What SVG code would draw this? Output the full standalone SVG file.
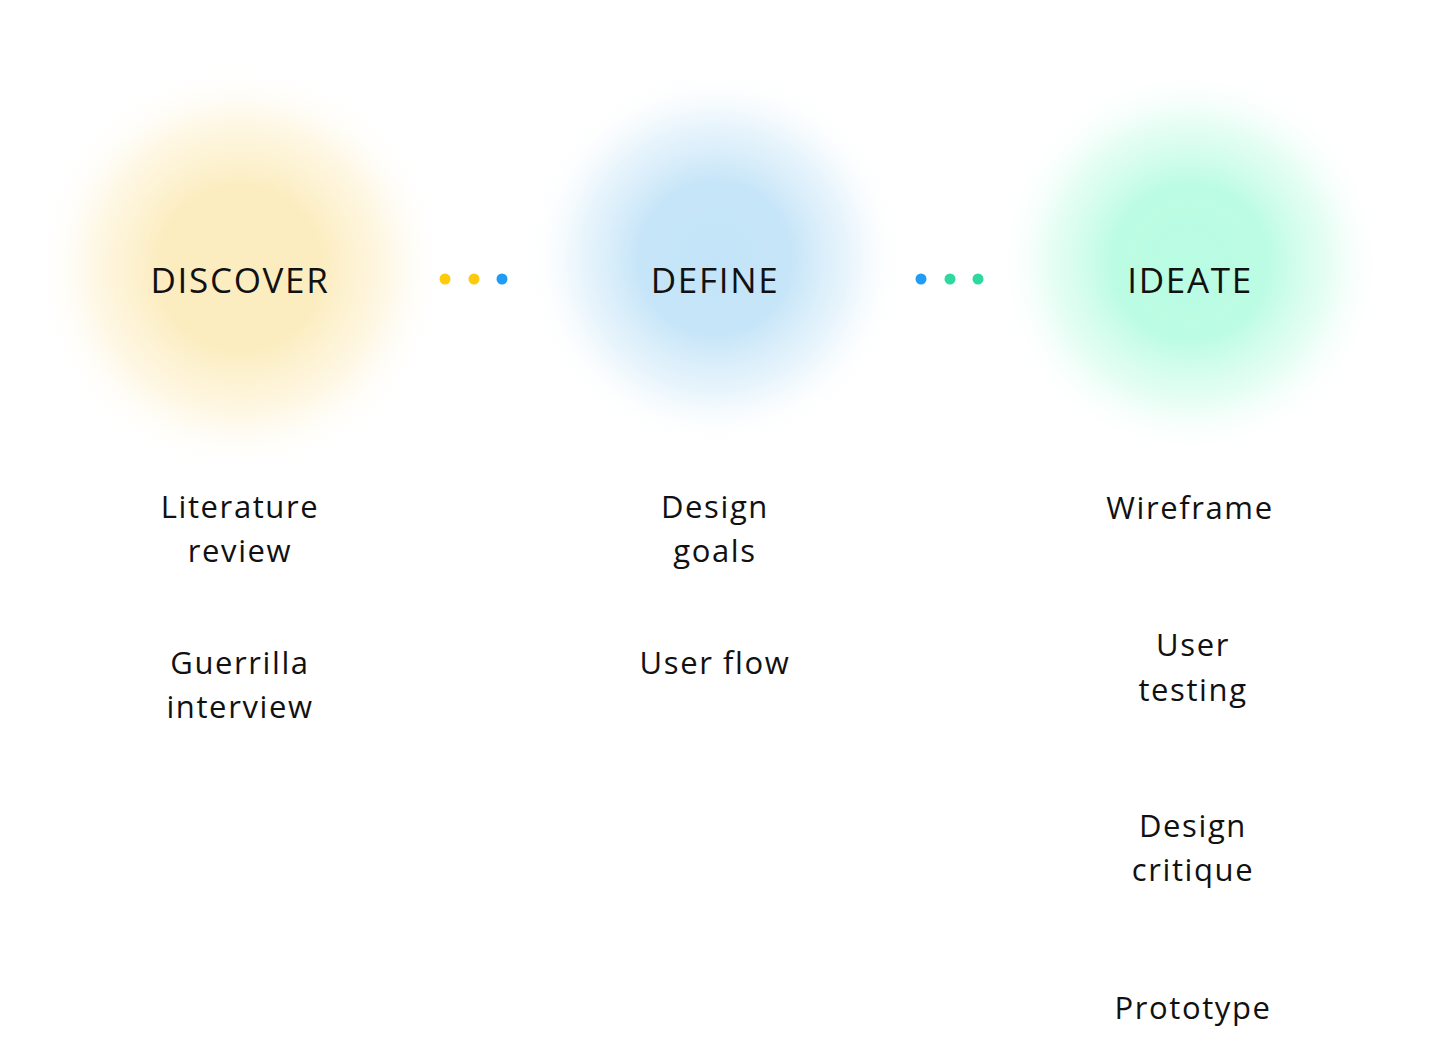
<svg xmlns="http://www.w3.org/2000/svg" width="1448" height="1062" viewBox="0 0 1448 1062">
<defs>
<radialGradient id="gy"><stop offset="0" stop-color="#fcedc0"/><stop offset="0.4" stop-color="#fcedc0"/><stop offset="0.7" stop-color="#fdf1cf" stop-opacity="0.6"/><stop offset="1" stop-color="#ffffff" stop-opacity="0"/></radialGradient>
<radialGradient id="gb"><stop offset="0" stop-color="#c3e4f8"/><stop offset="0.4" stop-color="#c6e5f8"/><stop offset="0.7" stop-color="#d8edfa" stop-opacity="0.6"/><stop offset="1" stop-color="#ffffff" stop-opacity="0"/></radialGradient>
<radialGradient id="gg"><stop offset="0" stop-color="#b9fde3"/><stop offset="0.4" stop-color="#bcfce4"/><stop offset="0.7" stop-color="#d2fdec" stop-opacity="0.6"/><stop offset="1" stop-color="#ffffff" stop-opacity="0"/></radialGradient>
<style>
text{font-family:"Open Sans","Liberation Sans",sans-serif;fill:#111;text-anchor:middle}
.h{font-size:35px;letter-spacing:1.7px}
.t{font-size:31px;letter-spacing:1.6px}
</style>
</defs>
<rect width="1448" height="1062" fill="#fff"/>
<g id="discover">
<circle cx="240" cy="268" r="205" fill="url(#gy)"/>
<text class="h" x="240" y="293">DISCOVER</text>
</g>
<g id="define">
<circle cx="715" cy="258" r="190" fill="url(#gb)"/>
<text class="h" x="715" y="293">DEFINE</text>
</g>
<g id="ideate">
<circle cx="1190" cy="262" r="195" fill="url(#gg)"/>
<text class="h" x="1190" y="293">IDEATE</text>
</g>
<g id="connectors">
<circle cx="445" cy="279" r="5.5" fill="#fdcb0c"/>
<circle cx="474" cy="279" r="5.5" fill="#fdcb0c"/>
<circle cx="502" cy="279" r="5.5" fill="#1e9cf6"/>
<circle cx="921" cy="279" r="5.5" fill="#1e9cf6"/>
<circle cx="950" cy="279" r="5.5" fill="#2ed9a1"/>
<circle cx="978" cy="279" r="5.5" fill="#2ed9a1"/>
</g>
<g id="literature-review"><text class="t" x="240" y="518">Literature</text><text class="t" x="240" y="562">review</text></g>
<g id="guerrilla-interview"><text class="t" x="240" y="674">Guerrilla</text><text class="t" x="240" y="718">interview</text></g>
<g id="design-goals"><text class="t" x="715" y="518">Design</text><text class="t" x="715" y="562">goals</text></g>
<g id="user-flow"><text class="t" x="715" y="674">User flow</text></g>
<g id="wireframe"><text class="t" x="1190" y="519">Wireframe</text></g>
<g id="user-testing"><text class="t" x="1193" y="656">User</text><text class="t" x="1193" y="701">testing</text></g>
<g id="design-critique"><text class="t" x="1193" y="837">Design</text><text class="t" x="1193" y="881">critique</text></g>
<g id="prototype"><text class="t" x="1193" y="1019">Prototype</text></g>
</svg>
